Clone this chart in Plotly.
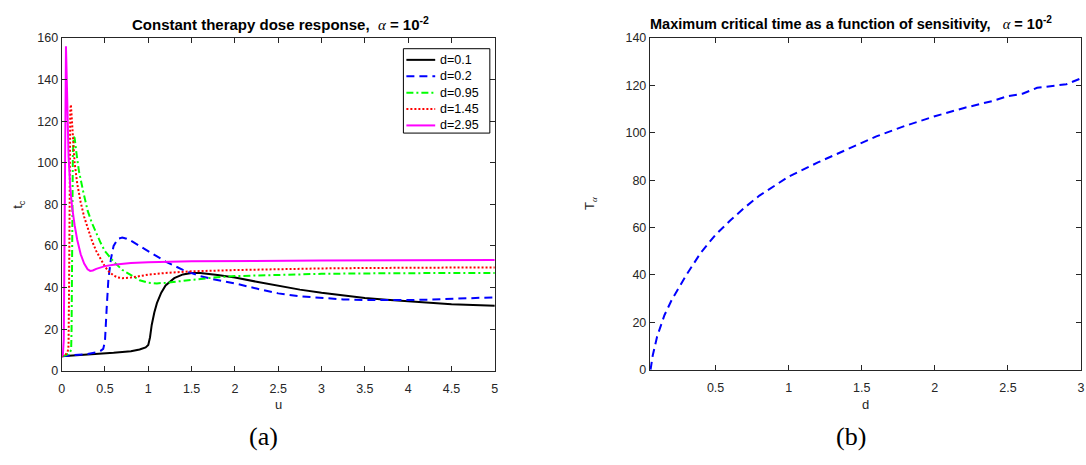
import plotly.graph_objects as go

W, H = 1086, 465

# ---------------- data (a) : t_c versus u for several d ----------------
u_d01 = [0, 0.2, 0.4, 0.6, 0.8, 0.9, 0.97, 1.0, 1.02, 1.04, 1.07, 1.1, 1.15, 1.2, 1.3, 1.4, 1.5,
         1.6, 1.8, 2.0, 2.25, 2.5, 2.75, 3.0, 3.25, 3.5, 3.75, 4.0, 4.25, 4.5, 4.75, 5.0]
t_d01 = [7, 7.5, 8, 8.6, 9.4, 10.2, 11.2, 12.4, 16, 22, 28, 32.5, 37.5, 41, 44.5, 46.3, 47,
         47, 46, 44.8, 42.8, 40.8, 39, 37.5, 36.2, 35, 34.1, 33.3, 32.6, 32, 31.6, 31.2]

u_d02 = [0, 0.1, 0.2, 0.3, 0.4, 0.45, 0.48, 0.5, 0.52, 0.54, 0.57, 0.6, 0.65, 0.7, 0.75, 0.8,
         0.9, 1.0, 1.1, 1.2, 1.3, 1.4, 1.5, 1.6, 1.75, 2.0, 2.25, 2.5, 2.75, 3.0, 3.25, 3.5,
         3.75, 4.0, 4.25, 4.5, 4.75, 5.0]
t_d02 = [7, 7.3, 7.6, 8, 8.8, 9.6, 10.5, 14, 30, 44, 54, 60, 63.5, 64, 63.5, 62.5,
         60, 57.5, 55, 52.5, 50.5, 48.5, 47, 45.5, 44, 42, 39.5, 37.2, 35.8, 34.9, 34.3, 34,
         33.9, 34, 34.2, 34.5, 34.9, 35.3]

u_d095 = [0, 0.05, 0.09, 0.11, 0.115, 0.12, 0.125, 0.13, 0.14, 0.15, 0.17, 0.2, 0.25, 0.3,
          0.35, 0.4, 0.45, 0.5, 0.6, 0.7, 0.8, 0.9, 1.0, 1.1, 1.2, 1.4, 1.6, 1.8, 2.0, 2.5,
          3.0, 3.5, 4.0, 4.5, 5.0]
t_d095 = [7, 7.5, 8.5, 10, 20, 50, 85, 105, 112.5, 112, 105, 96, 86, 77,
          71, 66, 61.5, 57.5, 52.5, 48.5, 46, 43.5, 42.3, 42, 42.3, 43.3, 44.3, 45, 45.5, 46.2,
          46.6, 46.8, 47, 47, 47]

u_d145 = [0, 0.04, 0.07, 0.08, 0.085, 0.09, 0.095, 0.1, 0.107, 0.115, 0.13, 0.15, 0.18, 0.22,
          0.26, 0.3, 0.35, 0.4, 0.45, 0.5, 0.55, 0.6, 0.65, 0.7, 0.8, 0.9, 1.0, 1.2, 1.5, 2.0,
          2.5, 3.0, 3.5, 4.0, 4.5, 5.0]
t_d145 = [7, 7.5, 9, 12, 35, 75, 110, 125, 128, 122, 110, 100, 90, 81,
          74, 68.5, 62.5, 57.5, 53.5, 50, 47.5, 45.8, 44.8, 44.5, 44.8, 45.5, 46.2, 47, 47.8, 48.4,
          48.9, 49.2, 49.4, 49.5, 49.6, 49.7]

u_d295 = [0, 0.015, 0.025, 0.03, 0.035, 0.04, 0.045, 0.05, 0.055, 0.06, 0.07, 0.08, 0.1, 0.12,
          0.15, 0.18, 0.22, 0.26, 0.3, 0.33, 0.36, 0.4, 0.5, 0.6, 0.8, 1.0, 1.5, 2.0, 3.0, 4.0, 5.0]
t_d295 = [7, 8, 15, 50, 100, 140, 154, 156, 148, 135, 117, 103, 88, 79,
          70, 63, 56, 51.5, 48.8, 48, 48.2, 49, 50.3, 51, 51.8, 52.2, 52.6, 52.8, 53, 53.1, 53.2]

series_names = ["d=0.1", "d=0.2", "d=0.95", "d=1.45", "d=2.95"]

# ---------------- data (b) : T_alpha versus d ----------------
d_vals = [0.055, 0.07, 0.1, 0.15, 0.2, 0.3, 0.4, 0.5, 0.6, 0.7, 0.8, 0.9, 1.0, 1.2, 1.4, 1.6,
          1.8, 2.0, 2.2, 2.4, 2.5, 2.6, 2.7, 2.8, 2.9, 3.0]
T_vals = [0, 6, 14, 23, 29.5, 40, 49.5, 57, 63, 68.5, 73.5, 77.5, 81.5, 87.5, 93, 98.5,
          103, 107, 110.5, 113.5, 115.5, 116.5, 119, 119.8, 120.5, 123]

x_ticks_a = [0, 0.5, 1, 1.5, 2, 2.5, 3, 3.5, 4, 4.5, 5]
y_ticks_a = [0, 20, 40, 60, 80, 100, 120, 140, 160]
x_ticks_b = [0.5, 1, 1.5, 2, 2.5, 3]
y_ticks_b = [0, 20, 40, 60, 80, 100, 120, 140]

# ---------------- figure ----------------
fig = go.Figure()
styles = [
    dict(color="#000000", dash="solid"),
    dict(color="#0000FF", dash="8px,5px"),
    dict(color="#00FF00", dash="7px,3px,2px,3px"),
    dict(color="#FF0000", dash="2px,2px"),
    dict(color="#FF00FF", dash="solid"),
]
for name, xs, ys, st in zip(series_names,
                            [u_d01, u_d02, u_d095, u_d145, u_d295],
                            [t_d01, t_d02, t_d095, t_d145, t_d295],
                            styles):
    fig.add_trace(go.Scatter(x=xs, y=ys, mode="lines", name=name,
                             line=dict(color=st["color"], dash=st["dash"], width=2),
                             xaxis="x", yaxis="y"))

fig.add_trace(go.Scatter(x=d_vals, y=T_vals, mode="lines", showlegend=False,
                         line=dict(color="#0000FF", dash="8px,5px", width=2),
                         xaxis="x2", yaxis="y2"))

def px(x):
    return x / W

def py(y):
    return 1 - y / H

SANS = "Liberation Sans"
SERIF = "Liberation Serif"

axis_common = dict(showline=True, linecolor="#262626", linewidth=1, mirror="ticks",
                   ticks="inside", ticklen=5, tickcolor="#262626", tickwidth=1,
                   showgrid=False, zeroline=False,
                   tickfont=dict(family=SANS, size=12.5, color="#262626"))

fig.update_layout(
    width=W, height=H,
    margin=dict(l=0, r=0, t=0, b=0),
    paper_bgcolor="white", plot_bgcolor="white",
    xaxis=dict(domain=[px(59), px(495)], range=[0, 5], tickvals=x_ticks_a,
               ticktext=[f"{v:g}" for v in x_ticks_a], anchor="y", ticklabelstandoff=6,
               **axis_common),
    yaxis=dict(domain=[py(375), py(32)], range=[0, 160], tickvals=y_ticks_a, anchor="x",
               **axis_common),
    xaxis2=dict(domain=[px(651), px(1085)], range=[0.05, 3], tickvals=x_ticks_b,
                ticktext=[f"{v:g}" for v in x_ticks_b], anchor="y2", ticklabelstandoff=6,
                **axis_common),
    yaxis2=dict(domain=[py(374), py(32)], range=[0, 140], tickvals=y_ticks_b, anchor="x2",
                **axis_common),
    showlegend=False,
)

alpha = f'<span style="font-family:{SERIF};font-style:italic;font-weight:normal">α</span>'
title_font = dict(family=SANS, size=14.5, color="#000000")
label_font = dict(family=SANS, size=13, color="#262626")
cap_font = dict(family=SERIF, size=26, color="#000000")

annos = [
    dict(x=px(279), y=py(17), text=f"<b>Constant therapy dose response,  {alpha} = 10<sup>-2</sup></b>",
         font=dict(family=SANS, size=15, color="#000000")),
    dict(x=px(853), y=py(17), text=f"<b>Maximum critical time as a function of sensitivity,   {alpha} = 10<sup>-2</sup></b>",
         font=title_font),
    dict(x=px(277), y=py(410), text="u", font=label_font),
    dict(x=px(868), y=py(410), text="d", font=label_font),
    dict(x=px(16), y=py(203), text="t<sub>c</sub>", font=label_font, textangle=-90),
    dict(x=px(592), y=py(203), text=f"T<sub>{alpha}</sub>", font=label_font, textangle=-90),
    dict(x=px(262), y=py(443), text="(a)", font=cap_font),
    dict(x=px(853), y=py(443), text="(b)", font=cap_font),
]
for a in annos:
    a.update(xref="paper", yref="paper", showarrow=False, xanchor="center", yanchor="middle")

# ---------------- legend box (drawn like the MATLAB legend) ----------------
shapes = [dict(type="rect", xref="paper", yref="paper",
               x0=px(403), x1=px(490), y0=py(130), y1=py(43),
               line=dict(color="#000000", width=1), fillcolor="white", layer="above")]
leg_y0, leg_dy = 54.5, 16.9
for i, (name, st) in enumerate(zip(series_names, styles)):
    yy = leg_y0 + i * leg_dy
    shapes.append(dict(type="line", xref="paper", yref="paper",
                       x0=px(406), x1=px(435), y0=py(yy), y1=py(yy),
                       line=dict(color=st["color"], dash=st["dash"], width=2), layer="above"))
    annos.append(dict(x=px(438), y=py(yy), text=name, xref="paper", yref="paper",
                      showarrow=False, xanchor="left", yanchor="middle",
                      font=dict(family=SANS, size=12.5, color="#000000")))

fig.update_layout(annotations=annos, shapes=shapes)

fig.write_html("out.html")
